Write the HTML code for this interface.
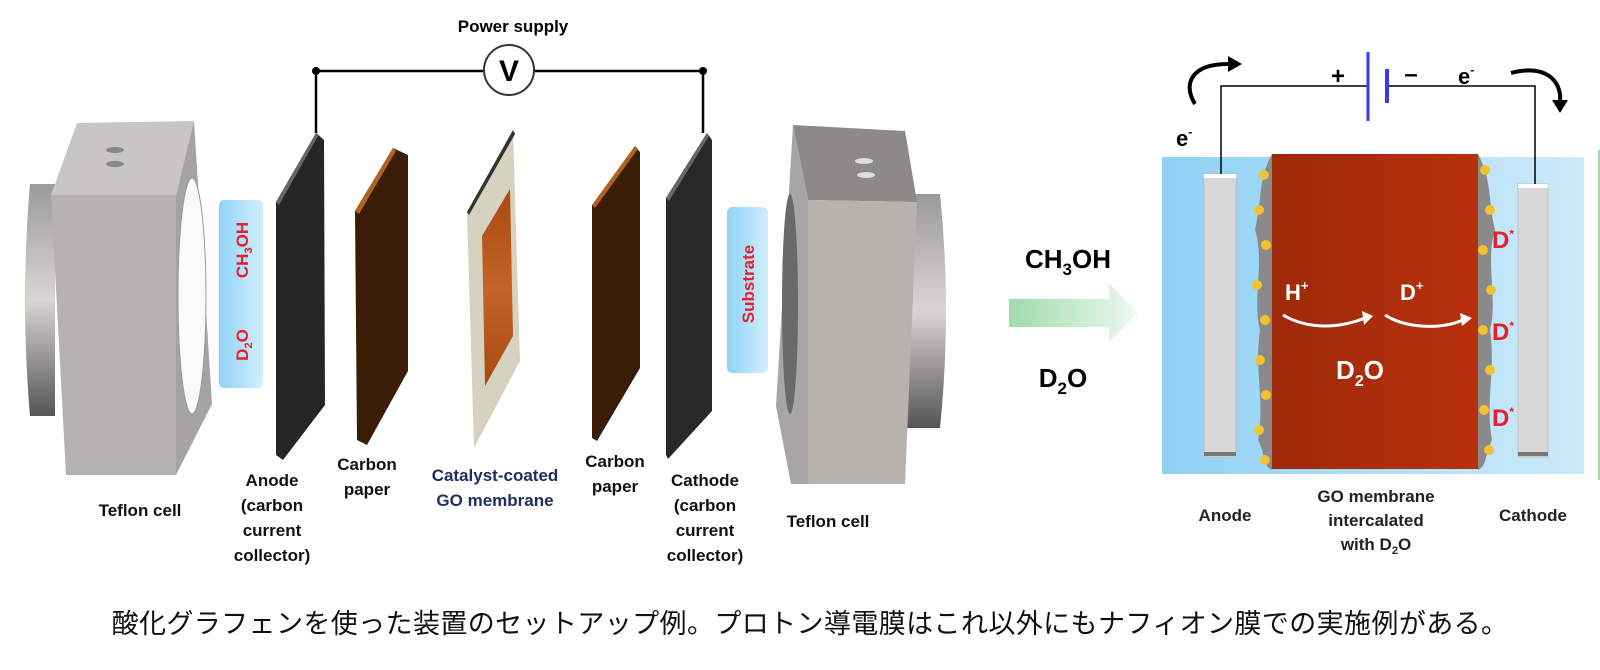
<!DOCTYPE html>
<html><head><meta charset="utf-8"><style>
body{margin:0;width:1600px;height:670px;background:#fff;overflow:hidden;font-family:"Liberation Sans",sans-serif}
svg{position:absolute;left:0;top:0}
.cap{position:absolute;left:60px;top:608px;width:1500px;text-align:center;line-height:32px;font-family:"Liberation Sans","Noto Sans CJK JP",sans-serif;font-size:27px;letter-spacing:0.4px;color:#111}
</style></head><body>
<svg width="1600" height="670" viewBox="0 0 1600 670" font-family="Liberation Sans, sans-serif">
<defs>
<linearGradient id="cyl2" x1="0" y1="0" x2="0" y2="1"><stop offset="0" stop-color="#9a9a9a"/><stop offset=".5" stop-color="#d8d6d2"/><stop offset="1" stop-color="#555"/></linearGradient>
<linearGradient id="blu" x1="0" y1="0" x2="1" y2="0"><stop offset="0" stop-color="#8fd3f7"/><stop offset="1" stop-color="#d3eefc"/></linearGradient>
<linearGradient id="grn" x1="0" y1="0" x2="1" y2="0"><stop offset="0" stop-color="#9fdcaa"/><stop offset="1" stop-color="#eef9f0"/></linearGradient>
<linearGradient id="bath" x1="0" y1="0" x2="1" y2="0"><stop offset="0" stop-color="#8fd1f5"/><stop offset="1" stop-color="#cdeafb"/></linearGradient>
<linearGradient id="mem" x1="0" y1="0" x2="1" y2="0"><stop offset="0" stop-color="#9e2a0a"/><stop offset="1" stop-color="#b8300c"/></linearGradient>
<linearGradient id="cat" x1="0" y1="0" x2="0" y2="1"><stop offset="0" stop-color="#a94a10"/><stop offset=".5" stop-color="#c2632a"/><stop offset="1" stop-color="#a94a10"/></linearGradient>
</defs>
<!-- left teflon -->
<path d="M30 184 L55 184 L55 416 L30 416 Q20 300 30 184 Z" fill="url(#cyl2)"/>
<path d="M51 195 L77 123 L194 121 L176 195 Z" fill="#c8c6c4"/>
<path d="M176 195 L194 121 L212 404 L176 475 Z" fill="#a6a4a2"/>
<path d="M51 195 L176 195 L176 475 L66 475 Z" fill="#b4b2b0"/>
<ellipse cx="192" cy="296" rx="14" ry="118" fill="#fafafa" stroke="#999"/>
<ellipse cx="115" cy="150" rx="9" ry="3" fill="#888"/><ellipse cx="115" cy="164" rx="9" ry="3" fill="#888"/>
<!-- right teflon -->
<path d="M905 194 L940 194 Q952 311 940 428 L905 428 Z" fill="url(#cyl2)"/>
<path d="M793 125 L905 131 L917 202 L808 200 Z" fill="#8c8a88"/>
<path d="M793 125 L808 200 L808 484 L791 484 L776 406 Z" fill="#a8a6a4"/>
<path d="M808 200 L917 202 L905 484 L808 484 Z" fill="#b6b2ae"/>
<ellipse cx="790" cy="304" rx="8" ry="110" fill="#6a6a6a"/>
<ellipse cx="864" cy="161" rx="9" ry="3" fill="#ddd"/><ellipse cx="866" cy="175" rx="9" ry="3" fill="#ddd"/>
<!-- blue bars -->
<rect x="219" y="200" width="44" height="188" rx="5" fill="url(#blu)"/>
<rect x="727" y="207" width="41" height="166" rx="5" fill="url(#blu)"/>
<text transform="translate(248,250) rotate(-90)" font-size="17" font-weight="bold" fill="#e8202a" text-anchor="middle">CH<tspan font-size="11" dy="4">3</tspan><tspan dy="-4">OH</tspan></text>
<text transform="translate(248,345) rotate(-90)" font-size="17" font-weight="bold" fill="#e8202a" text-anchor="middle">D<tspan font-size="11" dy="4">2</tspan><tspan dy="-4">O</tspan></text>
<text transform="translate(754,284) rotate(-90)" font-size="17" font-weight="bold" fill="#e8202a" text-anchor="middle">Substrate</text>
<!-- plates -->
<path d="M276 202 L316 133 L324 140 L325 405 L283 460 L276 455 Z" fill="#262626"/>
<path d="M276 202 L316 133 L318 136 L279 205 Z" fill="#666"/>
<path d="M355 211 L393 148 L408 155 L408 371 L367 445 L357 440 Z" fill="#3a1d06"/>
<path d="M355 211 L393 148 L396 151 L359 214 Z" fill="#b0621e"/>
<path d="M467 212 L513 130 L520 361 L474 448 Z" fill="#d6d2c0"/>
<path d="M467 212 L513 130 L515 134 L469 215 Z" fill="#333"/>
<path d="M482 236 L510 189 L513 336 L485 386 Z" fill="url(#cat)"/>
<path d="M592 205 L635 146 L640 152 L640 368 L597 441 L592 438 Z" fill="#3a1d06"/>
<path d="M592 205 L635 146 L638 149 L595 208 Z" fill="#b0621e"/>
<path d="M666 198 L707 133 L712 140 L712 411 L668 459 L666 455 Z" fill="#282828"/>
<path d="M666 198 L707 133 L709 136 L669 201 Z" fill="#666"/>
<!-- wires -->
<polyline points="316,133 316,71 703,71 703,133" fill="none" stroke="#000" stroke-width="2.5"/>
<circle cx="316" cy="71" r="4"/><circle cx="703" cy="71" r="4"/>
<circle cx="509" cy="70" r="25" fill="#fff" stroke="#333" stroke-width="2"/>
<text x="509" y="81" font-size="30" font-weight="bold" text-anchor="middle">V</text>
<text x="513" y="32" font-size="17" font-weight="bold" text-anchor="middle">Power supply</text>
<!-- labels -->
<g font-size="17" font-weight="bold" text-anchor="middle" fill="#111">
<text x="140" y="516">Teflon cell</text>
<text x="272" y="486">Anode</text><text x="272" y="511">(carbon</text><text x="272" y="536">current</text><text x="272" y="561">collector)</text>
<text x="367" y="470">Carbon</text><text x="367" y="495">paper</text>
<text x="495" y="481" fill="#1e3060">Catalyst-coated</text><text x="495" y="506" fill="#1e3060">GO membrane</text>
<text x="615" y="467">Carbon</text><text x="615" y="492">paper</text>
<text x="705" y="486">Cathode</text><text x="705" y="511">(carbon</text><text x="705" y="536">current</text><text x="705" y="561">collector)</text>
<text x="828" y="527">Teflon cell</text>
</g>
<!-- right panel -->
<path d="M1009 299 L1109 299 L1109 283 L1138 313 L1109 342 L1109 327 L1009 327 Z" fill="url(#grn)"/>
<text x="1068" y="268" font-size="26" font-weight="bold" text-anchor="middle">CH<tspan font-size="17" dy="7">3</tspan><tspan dy="-7">OH</tspan></text>
<text x="1063" y="387" font-size="26" font-weight="bold" text-anchor="middle">D<tspan font-size="17" dy="7">2</tspan><tspan dy="-7">O</tspan></text>
<rect x="1162" y="157" width="422" height="317" fill="url(#bath)"/>
<rect x="1598" y="150" width="2" height="330" fill="#9fdcaa"/>
<rect x="1204" y="174" width="32" height="283" fill="#d8d8d8" stroke="#c0c0c0"/>
<rect x="1204" y="174" width="32" height="4" fill="#fff"/><rect x="1204" y="452" width="32" height="4" fill="#777"/>
<rect x="1518" y="184" width="30" height="273" fill="#d8d8d8" stroke="#c0c0c0"/>
<rect x="1518" y="184" width="30" height="4" fill="#fff"/><rect x="1518" y="452" width="30" height="4" fill="#777"/>
<g fill="#f2c230">
<path d="M1272 154 C1258 180 1262 200 1255 230 C1265 260 1252 300 1260 330 C1254 370 1265 400 1258 440 C1266 455 1262 465 1272 470 Z" fill="#8a8a8a"/>
<path d="M1478 154 C1492 180 1488 200 1495 230 C1485 260 1498 300 1490 330 C1496 370 1485 400 1492 440 C1484 455 1488 465 1478 470 Z" fill="#8a8a8a"/>
<circle cx="1264" cy="175" r="5"/><circle cx="1259" cy="210" r="5"/><circle cx="1266" cy="245" r="5"/><circle cx="1257" cy="285" r="5"/><circle cx="1265" cy="320" r="5"/><circle cx="1260" cy="360" r="5"/><circle cx="1266" cy="395" r="5"/><circle cx="1259" cy="430" r="5"/><circle cx="1265" cy="460" r="5"/>
<circle cx="1485" cy="170" r="5"/><circle cx="1490" cy="210" r="5"/><circle cx="1483" cy="250" r="5"/><circle cx="1491" cy="290" r="5"/><circle cx="1483" cy="330" r="5"/><circle cx="1490" cy="370" r="5"/><circle cx="1484" cy="410" r="5"/><circle cx="1489" cy="450" r="5"/>
</g>
<rect x="1272" y="154" width="206" height="315" fill="url(#mem)"/>
<polyline points="1221,174 1221,86 1368,86" fill="none" stroke="#000" stroke-width="1.5"/>
<polyline points="1387,86 1535,86 1535,184" fill="none" stroke="#000" stroke-width="1.5"/>
<line x1="1368" y1="52" x2="1368" y2="121" stroke="#3a3af0" stroke-width="3"/>
<line x1="1387" y1="69" x2="1387" y2="103" stroke="#3a3af0" stroke-width="4"/>
<text x="1338" y="84" font-size="24" font-weight="bold" text-anchor="middle">+</text>
<text x="1411" y="82" font-size="24" font-weight="bold" text-anchor="middle">–</text>
<text x="1458" y="84" font-size="22" font-weight="bold">e<tspan font-size="12" dy="-10">-</tspan></text>
<text x="1176" y="146" font-size="22" font-weight="bold">e<tspan font-size="12" dy="-10">-</tspan></text>
<path d="M1195 104 C1183 85 1190 64 1228 64" fill="none" stroke="#000" stroke-width="4"/>
<path d="M1228 56 L1242 64 L1228 72 Z"/>
<path d="M1511 73 C1545 64 1562 80 1560 102" fill="none" stroke="#000" stroke-width="4"/>
<path d="M1552 100 L1560 113 L1568 100 Z"/>
<text x="1285" y="300" font-size="22" font-weight="bold" fill="#fff">H<tspan font-size="13" dy="-10">+</tspan></text>
<text x="1400" y="300" font-size="22" font-weight="bold" fill="#fff">D<tspan font-size="13" dy="-10">+</tspan></text>
<path d="M1283 315 C1305 328 1335 330 1365 318" fill="none" stroke="#fff" stroke-width="3"/><path d="M1362 311 L1373 316 L1364 325 Z" fill="#fff"/>
<path d="M1385 315 C1405 328 1440 330 1463 320" fill="none" stroke="#fff" stroke-width="3"/><path d="M1460 313 L1472 318 L1462 326 Z" fill="#fff"/>
<text x="1360" y="379" font-size="26" font-weight="bold" fill="#fff" text-anchor="middle">D<tspan font-size="16" dy="7">2</tspan><tspan dy="-7">O</tspan></text>
<g font-size="24" font-weight="bold" fill="#e8202a"><text x="1492" y="248">D<tspan font-size="12" dy="-10">*</tspan></text><text x="1492" y="340">D<tspan font-size="12" dy="-10">*</tspan></text><text x="1492" y="426">D<tspan font-size="12" dy="-10">*</tspan></text></g>
<g font-size="17" font-weight="bold" text-anchor="middle" fill="#222">
<text x="1225" y="521">Anode</text>
<text x="1376" y="502">GO membrane</text><text x="1376" y="526">intercalated</text><text x="1376" y="550">with D<tspan font-size="11" dy="4">2</tspan><tspan dy="-4">O</tspan></text>
<text x="1533" y="521">Cathode</text>
</g>
</svg>
<div class="cap">酸化グラフェンを使った装置のセットアップ例。プロトン導電膜はこれ以外にもナフィオン膜での実施例がある。</div>
</body></html>
